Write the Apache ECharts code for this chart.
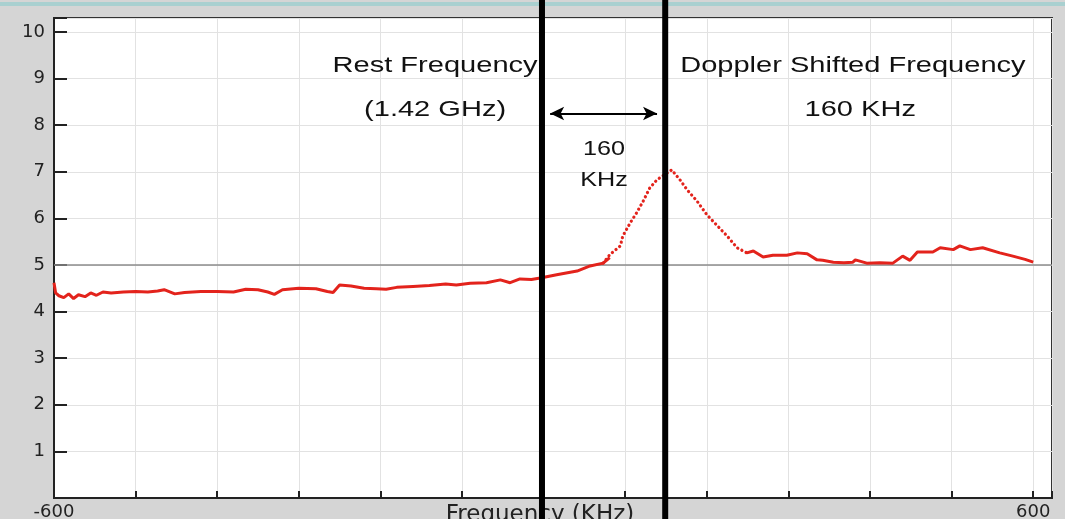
<!DOCTYPE html>
<html><head><meta charset="utf-8">
<script src="https://cdn.jsdelivr.net/npm/echarts@6/dist/echarts.min.js"></script>
<style>html,body{margin:0;padding:0;background:#d5d5d5}#c{width:1065px;height:519px}</style>
</head><body><div id="c"></div>
<script>
// ---- data ----
const xLabelTicks = [-600, 600];
const yLabelTicks = [1, 2, 3, 4, 5, 6, 7, 8, 9, 10];

const leftFreq = [-600, -598, -594, -588, -582, -576, -570, -562, -555, -548, -540, -530, -515, -500, -485, -473, -465, -452, -440, -420, -400, -380, -365, -350, -338, -330, -320, -300, -279, -265, -258, -250, -236, -220, -205, -193, -180, -160, -140, -120, -107, -90, -70, -53, -41, -29, -15, -4, 16, 41, 57, 73, 81];
const leftVal  = [4.62, 4.40, 4.34, 4.30, 4.38, 4.28, 4.36, 4.32, 4.40, 4.35, 4.42, 4.40, 4.42, 4.43, 4.42, 4.44, 4.47, 4.38, 4.41, 4.43, 4.43, 4.42, 4.48, 4.47, 4.42, 4.37, 4.47, 4.50, 4.49, 4.43, 4.41, 4.57, 4.55, 4.50, 4.49, 4.48, 4.52, 4.54, 4.56, 4.59, 4.57, 4.61, 4.62, 4.68, 4.62, 4.70, 4.69, 4.72, 4.79, 4.87, 4.98, 5.04, 5.16];

const peakFreq = [73, 81, 94, 97, 106, 114, 122, 130, 139, 146, 157, 167, 176, 188, 200, 213, 225, 237, 249];
const peakVal  = [5.04, 5.22, 5.41, 5.62, 5.90, 6.12, 6.37, 6.65, 6.83, 6.91, 7.04, 6.83, 6.61, 6.37, 6.08, 5.84, 5.62, 5.37, 5.26];

const rightFreq = [249, 257, 269, 281, 298, 311, 323, 335, 342, 355, 368, 379, 382, 396, 412, 428, 440, 449, 458, 477, 486, 502, 510, 523, 538, 559, 575, 590, 600];
const rightVal  = [5.26, 5.30, 5.17, 5.21, 5.21, 5.26, 5.24, 5.11, 5.10, 5.06, 5.05, 5.06, 5.11, 5.04, 5.05, 5.04, 5.19, 5.10, 5.28, 5.28, 5.37, 5.33, 5.41, 5.33, 5.37, 5.26, 5.19, 5.12, 5.06];

const referenceLevel = 5;
const markerFreqs = [-2, 149];           // rest / doppler-shifted frequency lines
const arrowSpan = [[8, 8.25], [139, 8.25]];

const annoText = ['Rest Frequency', '(1.42 GHz)', '160', 'KHz', 'Doppler Shifted Frequency', '160 KHz'];
const annoFreq = [-133, -133, 74, 74, 379, 388];
const annoVal  = [9.28, 8.33, 7.49, 6.81, 9.28, 8.33];

// ---- chart ----
const pairs = (f, v) => f.map((x, i) => [x, v[i]]);
const RED = '#e3231c';
const chart = echarts.init(document.getElementById('c'));

chart.setOption({
  animation: false,
  backgroundColor: '#d5d5d5',
  grid: { left: 54, right: 13, top: 18, bottom: 21, outerBoundsMode: 'none', containLabel: false,
          show: true, backgroundColor: '#ffffff', borderColor: '#333', borderWidth: 2 },
  xAxis: {
    type: 'value', min: -600, max: 623, interval: 100,
    axisLine: { onZero: false, lineStyle: { color: '#222', width: 2 } },
    axisTick: { inside: true, length: 7, lineStyle: { color: '#222', width: 2 } },
    splitLine: { show: true, lineStyle: { color: '#e2e2e2', width: 1 } },
    axisLabel: { formatter: v => xLabelTicks.includes(v) ? String(v) : '', color: '#222', fontFamily: 'DejaVu Sans', fontSize: 18, margin: 5, hideOverlap: false },
    name: 'Frequency (KHz)', nameLocation: 'middle', nameGap: 6, nameMoveOverlap: false,
    nameTextStyle: { color: '#222', fontFamily: 'DejaVu Sans', fontSize: 23, padding: [0, 26, 0, 0] }
  },
  yAxis: {
    type: 'value', min: 0, max: 10.3, interval: 1,
    axisLine: { show: true, onZero: false, lineStyle: { color: '#222', width: 2 } },
    axisTick: { show: true, inside: true, length: 13, lineStyle: { color: '#222', width: 2 } },
    splitLine: { show: true, lineStyle: { color: '#e2e2e2', width: 1 } },
    axisLabel: { formatter: v => yLabelTicks.includes(v) ? String(v) : '', color: '#222', fontFamily: 'DejaVu Sans', fontSize: 18, margin: 9 }
  },
  series: [
    {
      type: 'line', data: pairs(leftFreq, leftVal), showSymbol: false, z: 5,
      lineStyle: { color: RED, width: 3 },
      markLine: { silent: true, symbol: 'none', label: { show: false }, z: 3,
        lineStyle: { color: '#8c8c8c', width: 1.5, type: 'solid' },
        data: [{ yAxis: referenceLevel }] }
    },
    {
      type: 'line', data: pairs(peakFreq, peakVal), showSymbol: false, z: 5,
      lineStyle: { color: RED, width: 3.2, type: [0.1, 4.6], cap: 'round' },
      markLine: { silent: true, symbol: ['arrow', 'arrow'], symbolSize: [10, 14], label: { show: false },
        lineStyle: { color: '#000', width: 2, type: 'solid' },
        data: [[{ coord: arrowSpan[0] }, { coord: arrowSpan[1] }]] }
    },
    {
      type: 'line', data: pairs(rightFreq, rightVal), showSymbol: false, z: 5,
      lineStyle: { color: RED, width: 3 }
    }
  ]
});

const g = [];
g.push({ type: 'rect', shape: { x: 0, y: 2, width: 1065, height: 4 }, style: { fill: '#a9d0d0' }, z: 50 });
markerFreqs.forEach(f => {
  const x = chart.convertToPixel({ xAxisIndex: 0 }, f);
  g.push({ type: 'line', shape: { x1: x, y1: 0, x2: x, y2: 519 }, style: { stroke: '#000', lineWidth: 6 }, z: 100 });
});
annoText.forEach((t, i) => {
  const p = chart.convertToPixel({ xAxisIndex: 0, yAxisIndex: 0 }, [annoFreq[i], annoVal[i]]);
  const small = (t === '160' || t === 'KHz');
  g.push({ type: 'text', x: p[0], y: p[1], scaleX: small ? 1.2 : 1.32, z: 100,
    style: { text: t, x: 0, y: 0, align: 'center', verticalAlign: 'middle', fill: '#111',
      font: (small ? 21 : 22) + 'px "Liberation Sans", Arial, sans-serif' } });
});
chart.setOption({ graphic: g });
</script>
</body></html>
